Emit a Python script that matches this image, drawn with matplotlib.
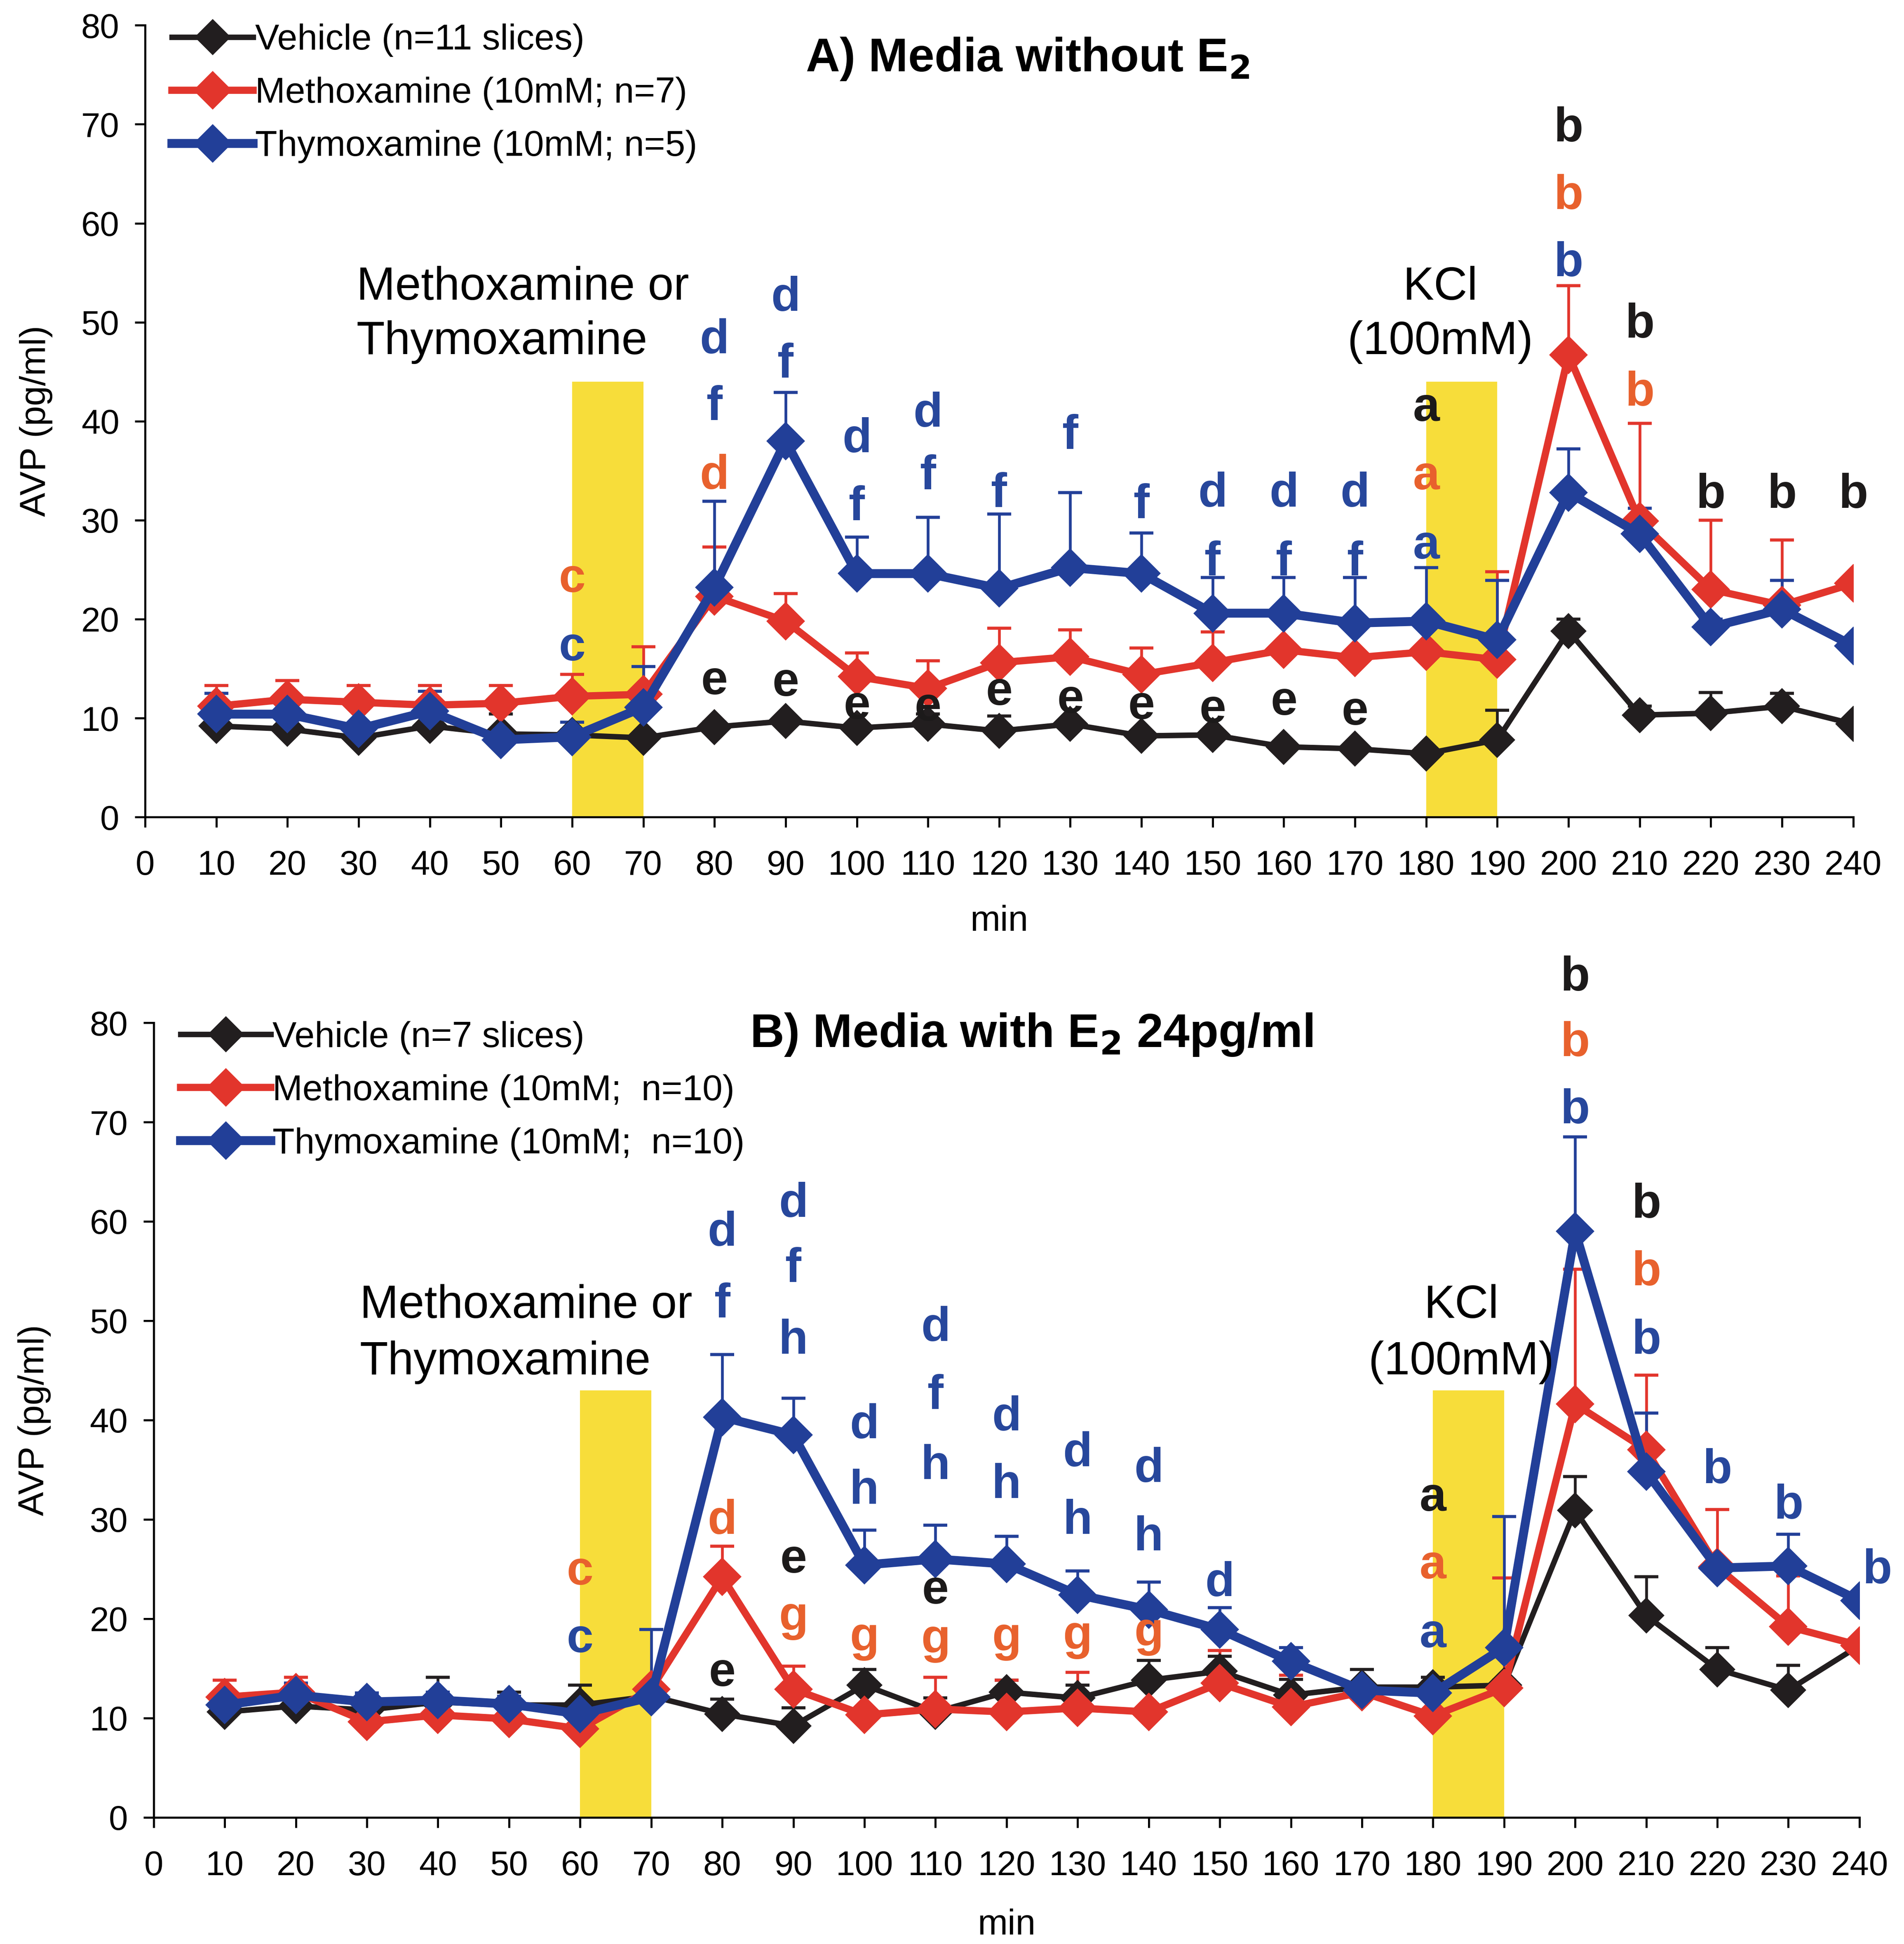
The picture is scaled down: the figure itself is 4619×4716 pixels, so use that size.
import numpy as np
import matplotlib
matplotlib.use("Agg")
import matplotlib.pyplot as plt
import matplotlib.transforms as mtrans

plt.rcParams['font.family'] = ['Liberation Sans', 'DejaVu Sans']

# time points (min)
minutes = [10, 20, 30, 40, 50, 60, 70, 80, 90, 100, 110, 120,
           130, 140, 150, 160, 170, 180, 190, 200, 210, 220, 230, 240]
xticks = list(range(0, 250, 10))

# ---- panel A: media without E2 ----
veh_a = [9.2, 8.9, 8.0, 9.2, 8.4, 8.3, 8.0, 9.1, 9.7, 9.0, 9.4, 8.7,
         9.4, 8.2, 8.3, 7.1, 6.9, 6.4, 7.8, 18.8, 10.3, 10.5, 11.2, 9.4]
veh_a_sem = [0.4, 0.4, 0.4, 0.4, 2.0, 0.5, 0.4, 0.5, 0.4, 0.4, 1.0, 1.5,
             0.4, 0.4, 0.4, 0.4, 0.4, 0.5, 3.0, 1.2, 0.9, 2.1, 1.3, 0.3]
met_a = [11.2, 11.9, 11.6, 11.3, 11.5, 12.2, 12.4, 22.3, 19.8, 14.2, 13.0, 15.6,
         16.2, 14.4, 15.6, 16.9, 16.1, 16.7, 15.9, 46.7, 29.9, 23.0, 21.4, 23.6]
met_a_sem = [2.1, 1.9, 1.7, 2.0, 1.8, 2.2, 4.8, 5.0, 2.8, 2.4, 2.8, 3.5,
             2.7, 2.7, 3.1, 3.4, 3.0, 2.8, 8.9, 7.0, 9.9, 7.0, 6.6, 0.5]
thy_a = [10.4, 10.4, 8.9, 10.7, 7.8, 8.1, 11.1, 23.2, 38.0, 24.6, 24.6, 23.1,
         25.2, 24.6, 20.6, 20.6, 19.6, 19.8, 17.9, 32.8, 28.6, 19.2, 21.0, 17.3]
thy_a_sem = [2.1, 1.0, 0.6, 2.0, 0.5, 1.5, 4.1, 8.7, 4.9, 3.7, 5.7, 7.5,
             7.6, 4.1, 3.6, 3.6, 4.6, 5.4, 6.0, 4.4, 2.6, 0.8, 2.9, 0.4]
labels_a = ['Vehicle (n=11 slices)', 'Methoxamine (10mM; n=7)',
            'Thymoxamine (10mM; n=5)']
letters_a = [
    (60, 24.0, 'c', 'r'), (60, 17.1, 'c', 'b'),
    (80, 48.6, 'd', 'b'), (80, 41.9, 'f', 'b'), (80, 34.9, 'd', 'r'), (80, 13.7, 'e', 'k'),
    (90, 52.9, 'd', 'b'), (90, 46.2, 'f', 'b'), (90, 13.5, 'e', 'k'),
    (100, 38.6, 'd', 'b'), (100, 31.8, 'f', 'b'), (100, 11.2, 'e', 'k'),
    (110, 41.2, 'd', 'b'), (110, 34.9, 'f', 'b'), (110, 11.0, 'e', 'k'),
    (120, 33.1, 'f', 'b'), (120, 12.6, 'e', 'k'),
    (130, 39.0, 'f', 'b'), (130, 11.8, 'e', 'k'),
    (140, 32.0, 'f', 'b'), (140, 11.2, 'e', 'k'),
    (150, 33.1, 'd', 'b'), (150, 26.2, 'f', 'b'), (150, 10.8, 'e', 'k'),
    (160, 33.1, 'd', 'b'), (160, 26.2, 'f', 'b'), (160, 11.6, 'e', 'k'),
    (170, 33.1, 'd', 'b'), (170, 26.2, 'f', 'b'), (170, 10.6, 'e', 'k'),
    (180, 41.3, 'a', 'k'), (180, 34.4, 'a', 'r'), (180, 27.4, 'a', 'b'),
    (200, 70.0, 'b', 'k'), (200, 63.2, 'b', 'r'), (200, 56.4, 'b', 'b'),
    (210, 50.2, 'b', 'k'), (210, 43.3, 'b', 'r'),
    (220, 33.0, 'b', 'k'), (230, 33.0, 'b', 'k'), (240, 33.0, 'b', 'k'),
]

# ---- panel B: media with E2 24pg/ml ----
veh_b = [10.6, 11.2, 10.8, 11.6, 11.3, 11.3, 12.2, 10.4, 9.2, 13.3, 10.6, 12.6,
         12.0, 13.8, 14.7, 12.3, 13.1, 13.1, 13.3, 30.9, 20.3, 14.9, 12.8, 17.3]
veh_b_sem = [0.5, 0.6, 0.4, 2.5, 1.3, 2.0, 0.8, 1.5, 1.8, 1.6, 1.4, 1.2,
             1.3, 2.0, 1.5, 1.6, 1.8, 1.0, 0.5, 3.4, 3.9, 2.2, 2.5, 0.4]
met_b = [12.1, 12.6, 9.6, 10.3, 9.9, 8.9, 12.9, 24.2, 12.9, 10.3, 10.9, 10.6,
         11.0, 10.6, 13.5, 11.1, 12.6, 10.2, 13.0, 41.6, 37.0, 25.2, 19.2, 17.3]
met_b_sem = [1.7, 1.5, 0.4, 0.4, 0.4, 0.4, 0.5, 3.1, 2.3, 0.4, 3.2, 3.2,
             3.6, 0.4, 3.3, 3.2, 0.5, 0.4, 11.1, 13.6, 7.5, 5.8, 5.1, 0.4]
thy_b = [11.3, 12.3, 11.6, 11.8, 11.4, 10.4, 12.1, 40.3, 38.5, 25.4, 26.0, 25.5,
         22.4, 20.9, 18.9, 15.7, 12.8, 12.5, 17.1, 59.0, 34.8, 25.1, 25.3, 21.8]
thy_b_sem = [0.8, 1.2, 0.9, 0.8, 0.8, 0.8, 6.8, 6.3, 3.7, 3.5, 3.4, 2.8,
             2.4, 2.8, 2.2, 1.4, 0.4, 0.4, 13.2, 9.5, 5.9, 0.5, 3.2, 0.4]
labels_b = ['Vehicle (n=7 slices)', 'Methoxamine (10mM;  n=10)',
            'Thymoxamine (10mM;  n=10)']
letters_b = [
    (60, 24.7, 'c', 'r'), (60, 17.9, 'c', 'b'),
    (80, 59.3, 'd', 'b'), (80, 52.1, 'f', 'b'), (80, 30.3, 'd', 'r'), (80, 14.5, 'e', 'k'),
    (90, 62.2, 'd', 'b'), (90, 55.7, 'f', 'b'), (90, 48.4, 'h', 'b'), (90, 25.9, 'e', 'k'),
    (90, 19.6, 'g', 'r'),
    (100, 39.9, 'd', 'b'), (100, 33.3, 'h', 'b'), (100, 17.5, 'g', 'r'),
    (110, 49.7, 'd', 'b'), (110, 42.9, 'f', 'b'), (110, 35.8, 'h', 'b'), (110, 22.8, 'e', 'k'),
    (110, 17.3, 'g', 'r'),
    (120, 40.7, 'd', 'b'), (120, 33.9, 'h', 'b'), (120, 17.5, 'g', 'r'),
    (130, 37.1, 'd', 'b'), (130, 30.3, 'h', 'b'), (130, 17.7, 'g', 'r'),
    (140, 35.5, 'd', 'b'), (140, 28.6, 'h', 'b'), (140, 18.0, 'g', 'r'),
    (150, 24.0, 'd', 'b'),
    (180, 32.1, 'a', 'k'), (180, 25.3, 'a', 'r'), (180, 18.4, 'a', 'b'),
    (200, 85.0, 'b', 'k'), (200, 78.4, 'b', 'r'), (200, 71.6, 'b', 'b'),
    (210, 62.1, 'b', 'k'), (210, 55.3, 'b', 'r'), (210, 48.4, 'b', 'b'),
    (220, 35.4, 'b', 'b'), (230, 31.8, 'b', 'b'), (242.5, 25.3, 'b', 'b'),
]

# colours
BLACK = '#221e1f'
RED = '#e2352c'
BLUE = '#223f98'
LETTER = {'k': '#1c1a1a', 'r': '#e8612d', 'b': '#27479c'}
YELLOW = '#f7dd3a'

# visual centre of each glyph (fraction of font size above baseline)
glyph_mid = {'a': 0.26, 'c': 0.26, 'e': 0.26, 'g': 0.15,
             'b': 0.36, 'd': 0.36, 'f': 0.36, 'h': 0.36}


def draw_panel(ax, series, labels, letters, title, box_top, lab_x, lab_y, kcl_x, hlen):
    ax.axvspan(60, 70, ymin=0, ymax=box_top / 80.0, color=YELLOW, lw=0, zorder=0)
    ax.axvspan(180, 190, ymin=0, ymax=box_top / 80.0, color=YELLOW, lw=0, zorder=0)

    styles = [(BLACK, 3.2, 14), (RED, 4.2, 15), (BLUE, 5.2, 15)]
    handles = []
    for (y, sem), (col, lw, ms), lab in zip(series, styles, labels):
        err = [np.zeros(len(sem)), np.array(sem)]
        ax.errorbar(minutes, y, yerr=err, fmt='none', ecolor=col,
                    elinewidth=1.6, capsize=7, capthick=1.8, zorder=2)
        h, = ax.plot(minutes, y, color=col, lw=lw, marker='D', ms=ms,
                     mec=col, mfc=col, zorder=3, label=lab)
        handles.append(h)

    ax.legend(handles=handles, loc='upper left', bbox_to_anchor=(0.001, 1.034),
              frameon=False, fontsize=21, handlelength=hlen,
              handletextpad=0.05, labelspacing=0.55, borderpad=0.2)

    fig = ax.figure
    for x, yv, ch, c in letters:
        off = mtrans.ScaledTranslation(0, -glyph_mid[ch] * 28 / 72.0, fig.dpi_scale_trans)
        ax.text(x, yv, ch, color=LETTER[c], fontsize=28, fontweight='bold',
                ha='center', va='baseline', transform=ax.transData + off,
                clip_on=False, zorder=5)

    ax.text(lab_x, lab_y[0], 'Methoxamine or', fontsize=27, ha='left', va='center')
    ax.text(lab_x, lab_y[1], 'Thymoxamine', fontsize=27, ha='left', va='center')
    ax.text(kcl_x, lab_y[0], 'KCl', fontsize=27, ha='center', va='center')
    ax.text(kcl_x, lab_y[1], '(100mM)', fontsize=27, ha='center', va='center')

    ax.text(title[1], title[2], title[0], fontsize=27.5, fontweight='bold',
            ha='center', va='center')

    ax.set_xlim(0, 240)
    ax.set_ylim(0, 80)
    ax.set_xticks(xticks)
    ax.set_yticks(range(0, 81, 10))
    ax.tick_params(axis='both', labelsize=20, length=6, width=1.2, direction='out')
    ax.tick_params(axis='x', pad=13)
    ax.tick_params(axis='y', pad=9)
    for s in ['top', 'right']:
        ax.spines[s].set_visible(False)
    for s in ['left', 'bottom']:
        ax.spines[s].set_linewidth(1.2)
    ax.set_xlabel('min', fontsize=21)
    ax.set_ylabel('AVP (pg/ml)', fontsize=21)


fig = plt.figure(figsize=(4619 / 300.0, 4716 / 300.0), dpi=300)
ax_a = fig.add_axes([0.0762, 0.5797, 0.8971, 0.4073])
ax_b = fig.add_axes([0.0807, 0.0652, 0.8959, 0.4087])

draw_panel(ax_a, [(veh_a, veh_a_sem), (met_a, met_a_sem), (thy_a, thy_a_sem)],
           labels_a, letters_a, (r'A) Media without E$_\mathbf{2}$', 124, 76.6),
           44.0, 29.7, (53.5, 48.0), 182.0, 2.25)
draw_panel(ax_b, [(veh_b, veh_b_sem), (met_b, met_b_sem), (thy_b, thy_b_sem)],
           labels_b, letters_b, (r'B) Media with E$_\mathbf{2}$ 24pg/ml', 123.5, 78.8),
           43.0, 29.0, (51.5, 45.8), 184.0, 2.5)

ax_a.yaxis.set_label_coords(-0.054, 0.5)
ax_b.yaxis.set_label_coords(-0.060, 0.5)
ax_a.xaxis.set_label_coords(0.5, -0.111)
ax_b.xaxis.set_label_coords(0.5, -0.115)

fig.savefig('out.png', dpi=300, facecolor='white')
